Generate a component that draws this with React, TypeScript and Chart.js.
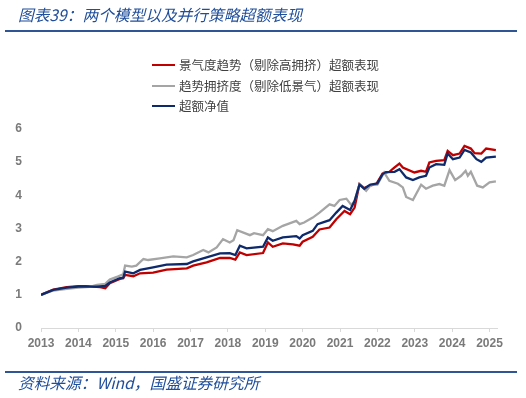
import React, { useEffect, useRef } from "react";
import { Chart, registerables } from "chart.js";

Chart.register(...registerables);

const title = "图表39：两个模型以及并行策略超额表现";
const source = "资料来源：Wind，国盛证券研究所";
const seriesNames = [
  "景气度趋势（剔除高拥挤）超额表现",
  "趋势拥挤度（剔除低景气）超额表现",
  "超额净值",
];
const seriesColors = ["#C00000", "#A5A5A5", "#0E2A6B"];
const yearTicks = [2013, 2014, 2015, 2016, 2017, 2018, 2019, 2020, 2021, 2022, 2023, 2024, 2025];

const redX = [2013.0, 2013.33, 2013.69, 2014.0, 2014.2, 2014.58, 2014.72, 2014.84, 2015.11, 2015.2, 2015.25, 2015.47, 2015.65, 2016.0, 2016.36, 2016.9, 2017.07, 2017.43, 2017.79, 2018.05, 2018.2, 2018.32, 2018.5, 2018.94, 2019.07, 2019.2, 2019.47, 2019.74, 2019.92, 2020.0, 2020.27, 2020.45, 2020.72, 2020.9, 2021.12, 2021.27, 2021.39, 2021.52, 2021.65, 2021.8, 2021.97, 2022.14, 2022.32, 2022.46, 2022.59, 2022.68, 2022.99, 2023.17, 2023.3, 2023.39, 2023.57, 2023.79, 2023.88, 2024.02, 2024.2, 2024.33, 2024.5, 2024.6, 2024.78, 2024.91, 2025.17];
const redY = [1.0, 1.16, 1.23, 1.26, 1.26, 1.23, 1.2, 1.35, 1.48, 1.5, 1.6, 1.56, 1.65, 1.67, 1.76, 1.8, 1.88, 1.98, 2.11, 2.11, 2.06, 2.28, 2.2, 2.26, 2.58, 2.45, 2.55, 2.52, 2.48, 2.6, 2.75, 2.97, 3.03, 3.28, 3.53, 3.43, 3.63, 4.34, 4.22, 4.29, 4.34, 4.66, 4.71, 4.84, 4.96, 4.84, 4.69, 4.74, 4.71, 4.99, 5.04, 5.06, 5.34, 5.21, 5.26, 5.49, 5.41, 5.27, 5.26, 5.41, 5.36];

const grayX = [2013.0, 2013.33, 2013.69, 2014.0, 2014.3, 2014.5, 2014.72, 2014.84, 2015.05, 2015.2, 2015.25, 2015.43, 2015.55, 2015.74, 2015.87, 2016.18, 2016.54, 2016.9, 2017.07, 2017.34, 2017.48, 2017.7, 2017.87, 2018.05, 2018.15, 2018.25, 2018.59, 2018.7, 2018.94, 2019.07, 2019.2, 2019.47, 2019.83, 2019.92, 2020.04, 2020.27, 2020.45, 2020.72, 2020.85, 2020.99, 2021.17, 2021.3, 2021.39, 2021.52, 2021.7, 2021.83, 2022.0, 2022.18, 2022.32, 2022.55, 2022.68, 2022.77, 2022.95, 2023.17, 2023.3, 2023.48, 2023.66, 2023.79, 2023.93, 2024.08, 2024.24, 2024.36, 2024.42, 2024.5, 2024.67, 2024.82, 2025.0, 2025.17];
const grayY = [1.0, 1.13, 1.18, 1.22, 1.24, 1.3, 1.33, 1.46, 1.55, 1.62, 1.88, 1.85, 1.88, 2.08, 2.05, 2.1, 2.16, 2.13, 2.2, 2.35, 2.28, 2.43, 2.68, 2.58, 2.65, 2.95, 2.8, 2.86, 2.8, 2.98, 2.92, 3.08, 3.23, 3.13, 3.18, 3.33, 3.48, 3.73, 3.68, 3.86, 3.9, 3.71, 3.83, 4.34, 4.14, 4.32, 4.32, 4.69, 4.44, 4.35, 4.24, 3.95, 3.86, 4.32, 4.2, 4.29, 4.34, 4.29, 4.76, 4.46, 4.59, 4.74, 4.59, 4.71, 4.29, 4.24, 4.39, 4.42];

const navyX = [2013.0, 2013.33, 2013.69, 2014.0, 2014.5, 2014.72, 2014.84, 2015.1, 2015.2, 2015.25, 2015.47, 2015.65, 2016.0, 2016.36, 2016.9, 2017.07, 2017.43, 2017.79, 2018.05, 2018.2, 2018.32, 2018.5, 2018.94, 2019.07, 2019.2, 2019.47, 2019.83, 2019.92, 2020.0, 2020.27, 2020.4, 2020.72, 2020.9, 2021.07, 2021.27, 2021.39, 2021.52, 2021.65, 2021.8, 2022.0, 2022.14, 2022.23, 2022.46, 2022.59, 2022.77, 2022.95, 2023.12, 2023.3, 2023.39, 2023.57, 2023.79, 2023.88, 2024.02, 2024.2, 2024.33, 2024.5, 2024.65, 2024.78, 2024.91, 2025.17];
const navyY = [1.0, 1.15, 1.22, 1.25, 1.25, 1.27, 1.37, 1.5, 1.52, 1.7, 1.65, 1.75, 1.83, 1.91, 1.93, 2.01, 2.13, 2.25, 2.26, 2.2, 2.48, 2.4, 2.45, 2.73, 2.63, 2.73, 2.77, 2.7, 2.8, 2.93, 3.13, 3.25, 3.48, 3.68, 3.56, 3.83, 4.32, 4.2, 4.32, 4.36, 4.64, 4.7, 4.71, 4.79, 4.54, 4.46, 4.54, 4.59, 4.84, 4.94, 4.92, 5.26, 5.09, 5.14, 5.37, 5.29, 5.09, 5.01, 5.14, 5.17];

const yMin = 0;
const yMax = 6;
const xMax = 2025.2;

const pts = (xs: number[], ys: number[]) => xs.map((x, i) => ({ x, y: ys[i] }));

const FONT = "'Noto Sans CJK SC', 'Noto Sans', sans-serif";

export default function App() {
  const ref = useRef<HTMLCanvasElement | null>(null);

  useEffect(() => {
    document.body.style.margin = "0";
    const canvas = ref.current;
    if (!canvas) return;
    const chart = new Chart(canvas, {
      type: "line",
      data: {
        datasets: [
          { label: seriesNames[0], data: pts(redX, redY), borderColor: seriesColors[0], order: 2 },
          { label: seriesNames[1], data: pts(grayX, grayY), borderColor: seriesColors[1], order: 1 },
          { label: seriesNames[2], data: pts(navyX, navyY), borderColor: seriesColors[2], order: 0 },
        ].map((d) => ({ ...d, borderWidth: 2.3, pointRadius: 0, tension: 0, fill: false })),
      },
      options: {
        animation: false,
        responsive: false,
        maintainAspectRatio: false,
        layout: { padding: { left: 0, right: 29, top: 129, bottom: 0 } },
        plugins: { legend: { display: false }, tooltip: { enabled: false }, title: { display: false } },
        scales: {
          x: {
            type: "linear",
            min: yearTicks[0],
            max: xMax,
            afterFit: (s: any) => { s.height = 70; },
            afterBuildTicks: (s: any) => { s.ticks = yearTicks.map((v) => ({ value: v })); },
            ticks: {
              stepSize: 1,
              includeBounds: false,
              autoSkip: false,
              maxRotation: 0,
              padding: 4,
              color: "#7a7a7a",
              font: { family: "'Liberation Sans', Arial, sans-serif", size: 12, weight: "bold" },
              callback: (v: any) => String(v),
            },
            grid: { display: true, drawOnChartArea: false, drawTicks: true, tickLength: 4, color: "#d9d9d9" },
            border: { display: true, color: "#d9d9d9", width: 1 },
          },
          y: {
            min: yMin,
            max: yMax,
            afterFit: (s: any) => { s.width = 41; },
            ticks: {
              stepSize: 1,
              padding: 11,
              color: "#7a7a7a",
              font: { family: "'Liberation Sans', Arial, sans-serif", size: 12, weight: "bold" },
            },
            grid: { display: false },
            border: { display: false },
          },
        },
      } as any,
    });
    return () => chart.destroy();
  }, []);

  const legendTops = [65, 85.5, 106];

  return (
    <div style={{ position: "relative", width: 526, height: 398, background: "#fff", overflow: "hidden" }}>
      <canvas ref={ref} width={526} height={398} style={{ position: "absolute", left: 0, top: 0 }} />
      <div
        style={{
          position: "absolute", left: 18, top: 4, lineHeight: "22px", fontSize: 15.7,
          fontStyle: "italic", color: "#1F4E9A", fontFamily: FONT, whiteSpace: "nowrap",
        }}
      >
        {title}
      </div>
      <div style={{ position: "absolute", left: 5, top: 30, width: 512, height: 2, background: "#2F5597" }} />
      {seriesNames.map((name, i) => (
        <React.Fragment key={name}>
          <div style={{ position: "absolute", left: 152, top: legendTops[i] - 1, width: 23, height: 2, background: seriesColors[i] }} />
          <div
            style={{
              position: "absolute", left: 179, top: legendTops[i] - 9, lineHeight: "18px", fontSize: 12.5,
              color: "#404040", fontFamily: FONT, whiteSpace: "nowrap",
            }}
          >
            {name}
          </div>
        </React.Fragment>
      ))}
      <div style={{ position: "absolute", left: 5, top: 371, width: 512, height: 2, background: "#2F5597" }} />
      <div
        style={{
          position: "absolute", left: 18, top: 373, lineHeight: "20px", fontSize: 15.7,
          fontStyle: "italic", color: "#1F4E9A", fontFamily: FONT, whiteSpace: "nowrap",
        }}
      >
        {source}
      </div>
    </div>
  );
}
